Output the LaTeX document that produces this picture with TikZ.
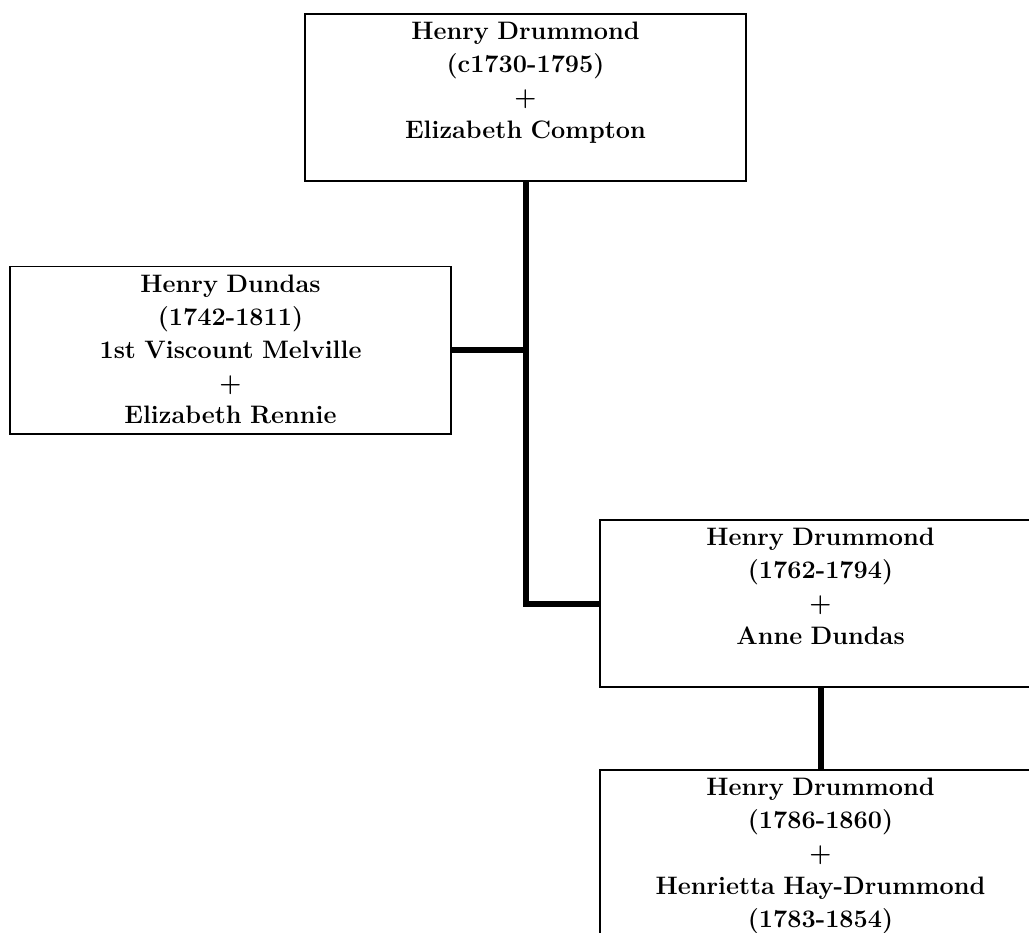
\documentclass[tikz,border=0pt]{standalone}
\begin{document}
\begin{tikzpicture}[line join=miter,x=1.0cm,y=1.0cm,
	person/.style={draw,line width=1.5pt,anchor=north,text width=320pt,inner xsep=6pt,inner ysep=6.5pt,minimum width=332.25pt,align=center,text height=13pt,text depth=100pt,font=\fontsize{19}{24.75}\selectfont\bfseries},
	link/.style={line width=4.5pt}]
	\useasboundingbox (0.,0.) rectangle (27.225,24.659);
	\clip (0.,0.) rectangle (27.225,24.659);
	\node [person] (drummondA) at (13.904,24.315) {Henry Drummond\\(c1730-1795)\\+\\Elizabeth Compton};
	\node [person] (dundas) at (6.099,17.634) {Henry Dundas\\(1742-1811)\\1st Viscount Melville\\+\\Elizabeth Rennie};
	\node [person] (drummondB) at (21.709,10.927) {Henry Drummond\\(1762-1794)\\+\\Anne Dundas};
	\node [person] (drummondC) at (21.709,4.313) {Henry Drummond\\(1786-1860)\\+\\Henrietta Hay-Drummond\\(1783-1854)};
	\draw [link] (drummondA.south) |- (drummondB.west);
	\draw [link] (dundas.east) -- (dundas.east -| drummondA.south);
	\draw [link] (drummondB.south) -- (drummondC.north);
\end{tikzpicture}
\end{document}
